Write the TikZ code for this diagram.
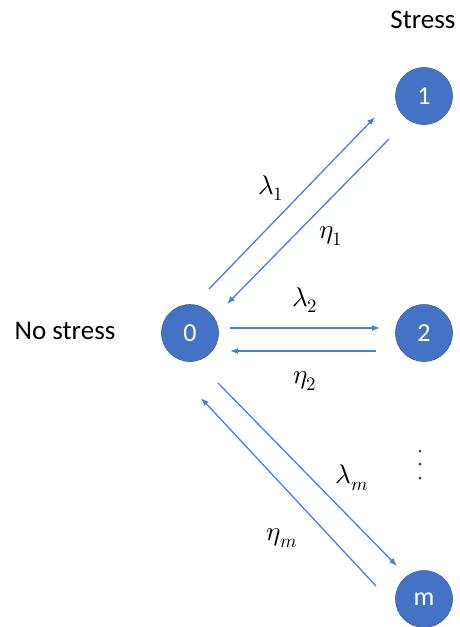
\documentclass[tikz,border=0pt]{standalone}
\usepackage{fontspec}
\setmainfont{Carlito}
\usepackage{unicode-math}
\usetikzlibrary{arrows.meta}
\definecolor{nodeblue}{HTML}{4472C4}
\definecolor{arrblue}{HTML}{4A7FD2}
\tikzset{
  state/.style={circle,fill=nodeblue,draw=nodeblue!85!black,line width=0.6pt,minimum size=57pt,inner sep=0pt,text=white,font=\fontsize{26}{28}\selectfont},
  arr/.style={draw=arrblue,line width=1.3pt,-{Latex[length=8pt,width=6pt]}},
  lab/.style={font=\fontsize{27}{29}\selectfont},
  txt/.style={font=\fontsize{27}{30}\selectfont},
  dot/.style={fill=black!80}
}
\begin{document}
\begin{tikzpicture}[x=1pt,y=-1pt]
\useasboundingbox (0,0) rectangle (459,627);
\node[state] (n0) at (190,333) {0};
\node[state] (n1) at (424,96) {1};
\node[state] (n2) at (424,333) {2};
\node[state] (nm) at (424,599) {m};
\node[txt] (stress) at (423,20) {Stress};
\node[txt] (nostress) at (65,331) {No stress};
% arrow endpoints
\coordinate (a1s) at (209,289);
\coordinate (a1e) at (375,117);
\coordinate (b1s) at (389,139);
\coordinate (b1e) at (227,304);
\coordinate (a2s) at (230,328);
\coordinate (a2e) at (380,328);
\coordinate (b2s) at (376,351);
\coordinate (b2e) at (230,351);
\coordinate (ams) at (218,383);
\coordinate (ame) at (397,566);
\coordinate (bms) at (376,586);
\coordinate (bme) at (201,398);
\draw[arr] (a1s) -- (a1e);
\draw[arr] (b1s) -- (b1e);
\draw[arr] (a2s) -- (a2e);
\draw[arr] (b2s) -- (b2e);
\draw[arr] (ams) -- (ame);
\draw[arr] (bms) -- (bme);
\node[lab] (l1) at (271,188) {$\lambda_1$};
\node[lab] (e1) at (331,236) {$\eta_1$};
\node[lab] (l2) at (305,300) {$\lambda_2$};
\node[lab] (e2) at (305,381) {$\eta_2$};
\node[lab] (lm) at (352,478) {$\lambda_m$};
\node[lab] (em) at (282,538) {$\eta_m$};
\fill[dot] (420,451) circle (1.5);
\fill[dot] (420,464) circle (1.5);
\fill[dot] (420,478) circle (1.5);
\end{tikzpicture}
\end{document}
